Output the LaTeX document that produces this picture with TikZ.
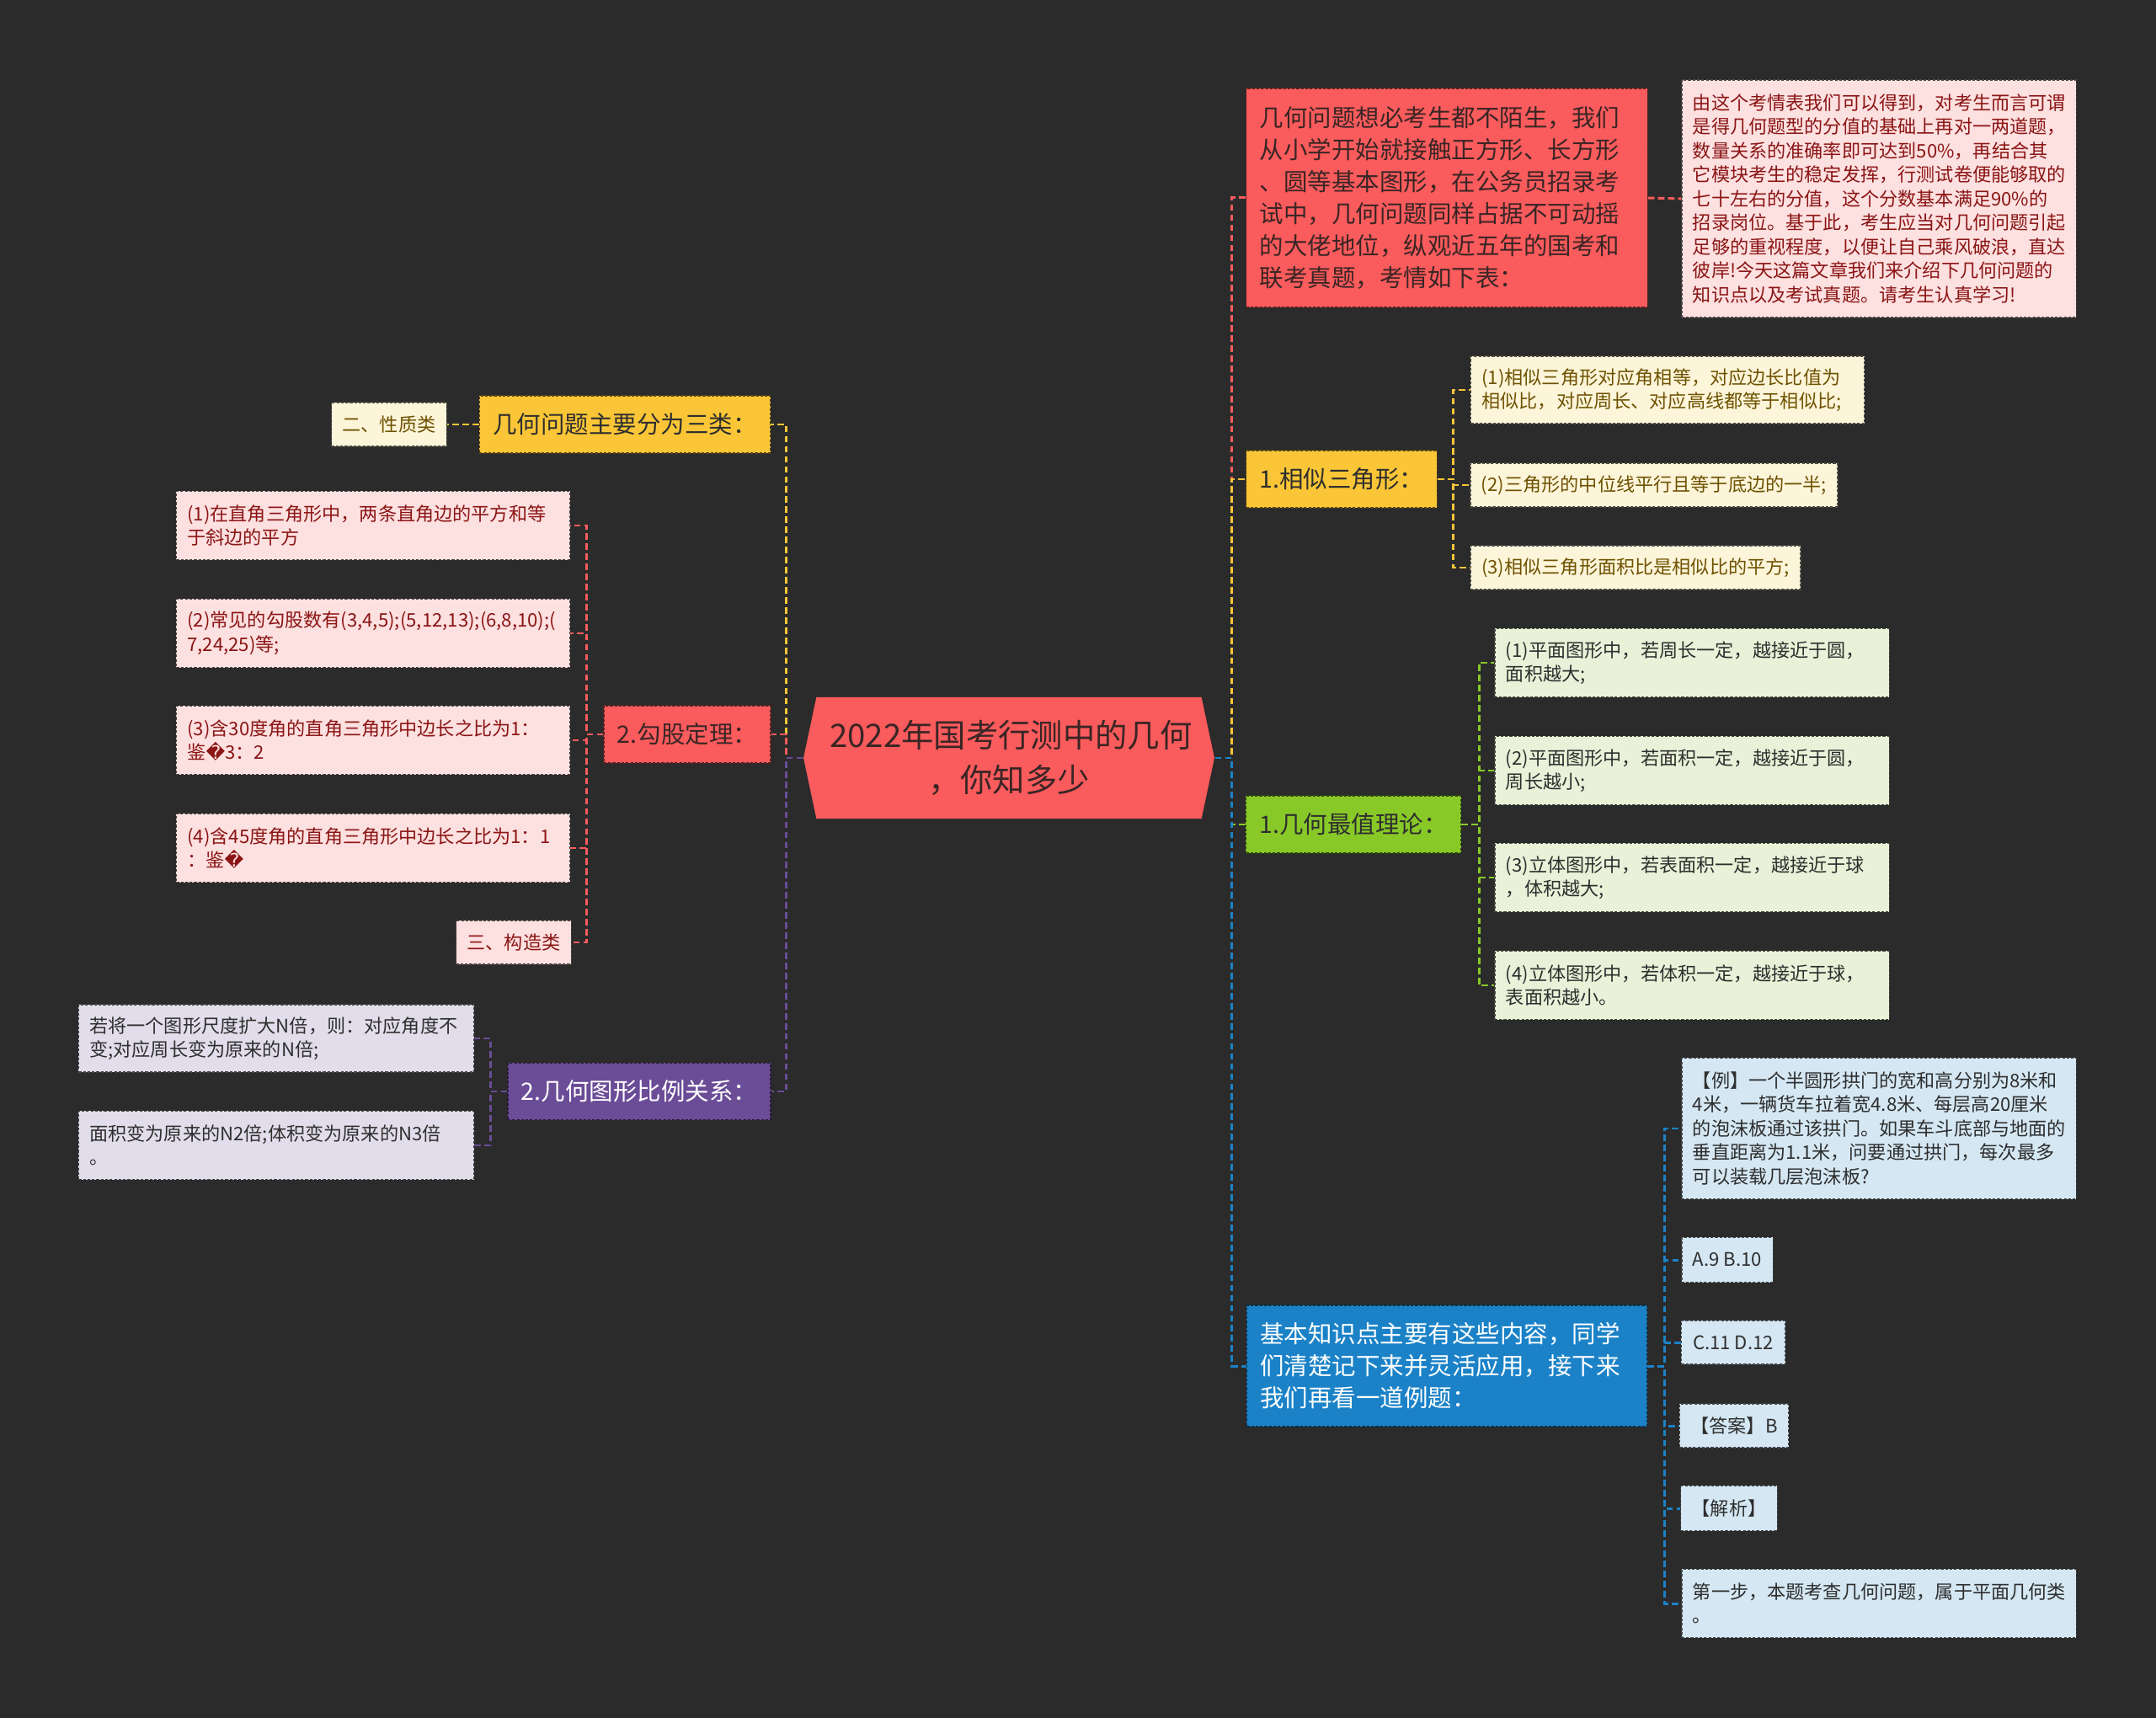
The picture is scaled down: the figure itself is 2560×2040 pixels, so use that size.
\documentclass[tikz,border=0pt]{standalone}
\usepackage{fontspec}
\setmainfont{Noto Sans CJK SC}
\newfontfamily\symfont{DejaVu Sans}
\usetikzlibrary{shapes.symbols}

\definecolor{bgdark}{HTML}{2B2B2B}
\definecolor{redmain}{HTML}{FA5B5C}
\definecolor{redlight}{HTML}{FDE0E0}
\definecolor{redtext}{HTML}{8B1515}
\definecolor{yelmain}{HTML}{FAC637}
\definecolor{yellight}{HTML}{FDF5DA}
\definecolor{yeltext}{HTML}{6E5200}
\definecolor{grnmain}{HTML}{88C928}
\definecolor{grnlight}{HTML}{E9F2D8}
\definecolor{blumain}{HTML}{1B82C7}
\definecolor{blulight}{HTML}{D4E7F3}
\definecolor{purmain}{HTML}{6B4C97}
\definecolor{purlight}{HTML}{E2DDEA}
\definecolor{darktext}{HTML}{2E2E2E}
\definecolor{roottext}{HTML}{3A2525}

\begin{document}
\begin{tikzpicture}[
  x=0.01cm, y=-0.01cm,
  rootbox/.style={signal, signal to=west and east, signal pointer angle=156, fill=redmain, text=roottext, align=center, inner xsep=0.16cm, inner ysep=0pt, font=\fontsize{10.9}{15.1}\selectfont},
  topicbox/.style 2 args={rectangle, fill=#1, draw=#1!35!black, dash pattern=on 0.9pt off 0.6pt, line width=0.35pt, text=#2, align=left, inner xsep=0.16cm, inner ysep=0pt, font=\fontsize{8.1}{10.8}\selectfont},
  leafbox/.style 2 args={rectangle, fill=#1, draw=#1!30!black, dash pattern=on 0.9pt off 0.6pt, line width=0.35pt, text=#2, align=left, inner xsep=0.13cm, inner ysep=0pt, font=\fontsize{6.3}{8.1}\selectfont},
  link/.style={draw=#1, line width=0.85pt, dash pattern=on 2.2pt off 1.2pt}
]
  \fill[bgdark] (0,0) rectangle (2560,2040);
  \useasboundingbox (0,0) rectangle (2560,2040);

  % Root
  \node[rootbox, text width=4.25cm, minimum height=1.44cm] (root) at (1198,900) {2022年国考行测中的几何\\，你知多少};

  % Right side
  \node[topicbox={redmain}{roottext}, text width=4.44cm, minimum height=2.60cm] (n1) at (1718,235) {几何问题想必考生都不陌生，我们\\从小学开始就接触正方形、长方形\\、圆等基本图形，在公务员招录考\\试中，几何问题同样占据不可动摇\\的大佬地位，纵观近五年的国考和\\联考真题，考情如下表：};
  \node[leafbox={redlight}{redtext}, text width=4.42cm, minimum height=2.82cm] (n1a) at (2231,236) {由这个考情表我们可以得到，对考生而言可谓\\是得几何题型的分值的基础上再对一两道题，\\数量关系的准确率即可达到50\%，再结合其\\它模块考生的稳定发挥，行测试卷便能够取的\\七十左右的分值，这个分数基本满足90\%的\\招录岗位。基于此，考生应当对几何问题引起\\足够的重视程度，以便让自己乘风破浪，直达\\彼岸!今天这篇文章我们来介绍下几何问题的\\知识点以及考试真题。请考生认真学习!};

  \node[topicbox={yelmain}{darktext}, minimum width=2.26cm, minimum height=0.68cm] (n2) at (1593,569) {1.相似三角形：};
  \node[leafbox={yellight}{yeltext}, text width=4.41cm, minimum height=0.80cm] (n2a) at (1980,463) {(1)相似三角形对应角相等，对应边长比值为\\相似比，对应周长、对应高线都等于相似比;};
  \node[leafbox={yellight}{yeltext}, minimum width=4.34cm, minimum height=0.52cm] (n2b) at (1964,576) {(2)三角形的中位线平行且等于底边的一半;};
  \node[leafbox={yellight}{yeltext}, minimum width=3.90cm, minimum height=0.52cm] (n2c) at (1942,674) {(3)相似三角形面积比是相似比的平方;};

  \node[topicbox={grnmain}{darktext}, minimum width=2.54cm, minimum height=0.68cm] (n3) at (1607,979) {1.几何最值理论：};
  \node[leafbox={grnlight}{darktext}, text width=4.42cm, minimum height=0.81cm] (n3a) at (2009,787) {(1)平面图形中，若周长一定，越接近于圆，\\面积越大;};
  \node[leafbox={grnlight}{darktext}, text width=4.42cm, minimum height=0.81cm] (n3b) at (2009,915) {(2)平面图形中，若面积一定，越接近于圆，\\周长越小;};
  \node[leafbox={grnlight}{darktext}, text width=4.42cm, minimum height=0.81cm] (n3c) at (2009,1042) {(3)立体图形中，若表面积一定，越接近于球\\，体积越大;};
  \node[leafbox={grnlight}{darktext}, text width=4.42cm, minimum height=0.81cm] (n3d) at (2009,1170) {(4)立体图形中，若体积一定，越接近于球，\\表面积越小。};

  \node[topicbox={blumain}{white}, text width=4.43cm, minimum height=1.44cm] (n4) at (1718,1622) {基本知识点主要有这些内容，同学\\们清楚记下来并灵活应用，接下来\\我们再看一道例题：};
  \node[leafbox={blulight}{darktext}, text width=4.42cm, minimum height=1.67cm] (n4a) at (2231,1340) {【例】一个半圆形拱门的宽和高分别为8米和\\4米，一辆货车拉着宽4.8米、每层高20厘米\\的泡沫板通过该拱门。如果车斗底部与地面的\\垂直距离为1.1米，问要通过拱门，每次最多\\可以装载几层泡沫板?};
  \node[leafbox={blulight}{darktext}, minimum width=1.08cm, minimum height=0.53cm] (n4b) at (2051,1496) {A.9 B.10};
  \node[leafbox={blulight}{darktext}, minimum width=1.23cm, minimum height=0.52cm] (n4c) at (2058,1594) {C.11 D.12};
  \node[leafbox={blulight}{darktext}, minimum width=1.25cm, minimum height=0.52cm] (n4d) at (2059,1693) {【答案】B};
  \node[leafbox={blulight}{darktext}, minimum width=1.12cm, minimum height=0.53cm] (n4e) at (2053,1791) {【解析】};
  \node[leafbox={blulight}{darktext}, text width=4.42cm, minimum height=0.81cm] (n4f) at (2231,1904) {第一步，本题考查几何问题，属于平面几何类\\。};

  % Left side
  \node[topicbox={yelmain}{darktext}, minimum width=3.43cm, minimum height=0.68cm] (m1) at (742,504) {几何问题主要分为三类：};
  \node[leafbox={yellight}{yeltext}, minimum width=1.33cm, minimum height=0.52cm] (m1a) at (462,504) {二、性质类};

  \node[topicbox={redmain}{roottext}, minimum width=1.97cm, minimum height=0.68cm] (m2) at (816,872) {2.勾股定理：};
  \node[leafbox={redlight}{redtext}, text width=4.41cm, minimum height=0.81cm] (m2a) at (443,624) {(1)在直角三角形中，两条直角边的平方和等\\于斜边的平方};
  \node[leafbox={redlight}{redtext}, text width=4.41cm, minimum height=0.81cm] (m2b) at (443,752) {(2)常见的勾股数有(3,4,5);(5,12,13);(6,8,10);(\\7,24,25)等;};
  \node[leafbox={redlight}{redtext}, text width=4.41cm, minimum height=0.81cm] (m2c) at (443,879) {(3)含30度角的直角三角形中边长之比为1：\\鉴{\symfont �}3：2};
  \node[leafbox={redlight}{redtext}, text width=4.41cm, minimum height=0.81cm] (m2d) at (443,1007) {(4)含45度角的直角三角形中边长之比为1：1\\：鉴{\symfont �}};
  \node[leafbox={redlight}{redtext}, minimum width=1.34cm, minimum height=0.52cm] (m2e) at (610,1119) {三、构造类};

  \node[topicbox={purmain}{white}, minimum width=3.11cm, minimum height=0.67cm] (m3) at (759,1296) {2.几何图形比例关系：};
  \node[leafbox={purlight}{darktext}, text width=4.43cm, minimum height=0.80cm] (m3a) at (328,1233) {若将一个图形尺度扩大N倍，则：对应角度不\\变;对应周长变为原来的N倍;};
  \node[leafbox={purlight}{darktext}, text width=4.43cm, minimum height=0.81cm] (m3b) at (328,1360) {面积变为原来的N2倍;体积变为原来的N3倍\\。};

  % Connectors right
  \draw[link=redmain] (root.east) -- ++(20,0) |- (n1.west);
  \draw[link=redmain] (n1.east) -- (n1a.west);
  \draw[link=yelmain] (root.east) -- ++(20,0) |- (n2.west);
  \draw[link=yelmain] (n2.east) -- ++(19,0) |- (n2a.west);
  \draw[link=yelmain] (n2.east) -- ++(19,0) |- (n2b.west);
  \draw[link=yelmain] (n2.east) -- ++(19,0) |- (n2c.west);
  \draw[link=grnmain] (root.east) -- ++(20,0) |- (n3.west);
  \draw[link=grnmain] (n3.east) -- ++(21,0) |- (n3a.west);
  \draw[link=grnmain] (n3.east) -- ++(21,0) |- (n3b.west);
  \draw[link=grnmain] (n3.east) -- ++(21,0) |- (n3c.west);
  \draw[link=grnmain] (n3.east) -- ++(21,0) |- (n3d.west);
  \draw[link=blumain] (root.east) -- ++(20,0) |- (n4.west);
  \draw[link=blumain] (n4.east) -- ++(20,0) |- (n4a.west);
  \draw[link=blumain] (n4.east) -- ++(20,0) |- (n4b.west);
  \draw[link=blumain] (n4.east) -- ++(20,0) |- (n4c.west);
  \draw[link=blumain] (n4.east) -- ++(20,0) |- (n4d.west);
  \draw[link=blumain] (n4.east) -- ++(20,0) |- (n4e.west);
  \draw[link=blumain] (n4.east) -- ++(20,0) |- (n4f.west);

  % Connectors left
  \draw[link=yelmain] (root.west) -- ++(-20,0) |- (m1.east);
  \draw[link=yelmain] (m1.west) -- (m1a.east);
  \draw[link=redmain] (root.west) -- ++(-20,0) |- (m2.east);
  \draw[link=redmain] (m2.west) -- ++(-20,0) |- (m2a.east);
  \draw[link=redmain] (m2.west) -- ++(-20,0) |- (m2b.east);
  \draw[link=redmain] (m2.west) -- ++(-20,0) |- (m2c.east);
  \draw[link=redmain] (m2.west) -- ++(-20,0) |- (m2d.east);
  \draw[link=redmain] (m2.west) -- ++(-20,0) |- (m2e.east);
  \draw[link=purmain] (root.west) -- ++(-20,0) |- (m3.east);
  \draw[link=purmain] (m3.west) -- ++(-20,0) |- (m3a.east);
  \draw[link=purmain] (m3.west) -- ++(-20,0) |- (m3b.east);
\end{tikzpicture}
\end{document}
